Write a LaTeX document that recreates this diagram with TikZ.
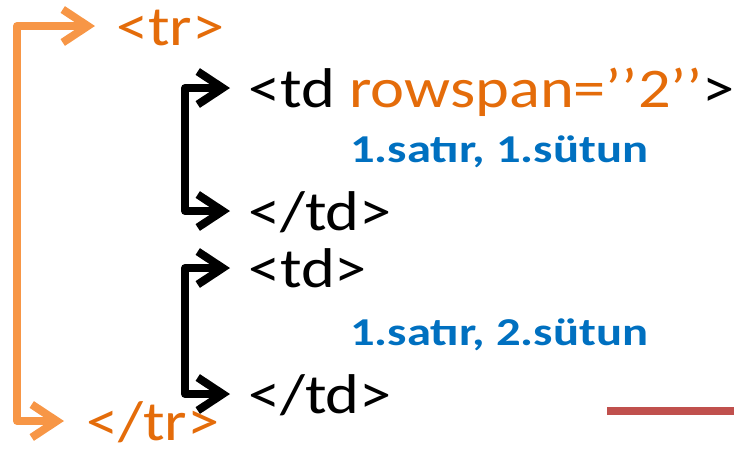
\documentclass[tikz,border=0pt]{standalone}
\usepackage{fontspec}
\setmainfont{Carlito}
\newfontfamily\tagfont[FakeStretch=1.15]{Carlito}
\newfontfamily\cellfont[FakeStretch=1.23]{Carlito}
\usetikzlibrary{arrows.meta,positioning}
\definecolor{tagorange}{RGB}{228,108,10}
\definecolor{linkorange}{RGB}{247,150,70}
\definecolor{cellblue}{RGB}{0,112,192}
\definecolor{barred}{RGB}{192,80,77}
\tikzset{
    %Define style for tag texts
    tag/.style={
           inner sep=0pt,
           anchor=base west,
           text height=38pt,
           text depth=0pt,
           font=\tagfont\fontsize{56}{60}\selectfont},
    %Define style for cell texts
    cell/.style={
           inner sep=0pt,
           anchor=base west,
           text=cellblue,
           font=\cellfont\fontsize{39.5}{42}\selectfont\bfseries},
    % Define arrow styles
    pair/.style={
           line width=8pt,
           line join=round,
           {Straight Barb[length=25pt,width=33pt,line width=8pt]}-{Straight Barb[length=25pt,width=33pt,line width=8pt]},
           shorten <=18pt,
           shorten >=18pt},
    rowpair/.style={
           pair,
           draw=linkorange,
           shorten <=21pt,
           shorten >=22pt}
}
\begin{document}
\begin{tikzpicture}[x=1pt,y=1pt]
\useasboundingbox (0,0) rectangle (734,-459);
\node[tag, text=tagorange] (tr) at (116,-45) {<tr>};
\node[tag] (td1) at (248,-107) {<td \textcolor{tagorange}{rowspan=’’2’’}>};
\node[cell] (c1) at (350,-162) {1.satır, 1.sütun};
\node[tag] (etd1) at (248,-230) {</td>};
\node[tag] (td2) at (248,-287) {<td>};
\node[cell] (c2) at (350,-345) {1.satır, 2.sütun};
\node[tag] (etd2) at (248,-413) {</td>};
\node[tag, text=tagorange] (etr) at (86,-440) {</tr>};
\coordinate (barl) at (607,-411);
\coordinate (barr) at (734,-411);
% brackets
\draw[pair] (td1.west) -- ++(-63,0) |- (etd1.west);
\draw[pair] (td2.west) -- ++(-63,0) |- (etd2.west);
\draw[rowpair] (tr.west) -- ++(-99,0) |- (etr.west);
\draw[barred, line width=8pt] (barl) -- (barr);
\end{tikzpicture}
\end{document}
